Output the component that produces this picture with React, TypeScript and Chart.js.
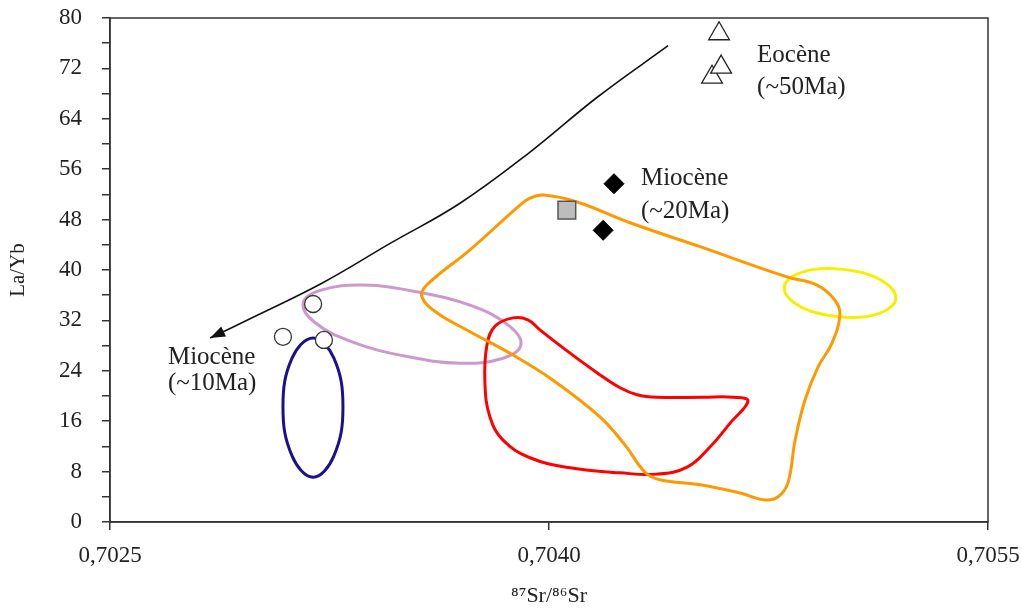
import { useEffect, useRef } from 'react';
import { Chart, registerables } from 'chart.js';

Chart.register(...registerables);

// ---- axes ----
const xTickValues = [0.7025, 0.704, 0.7055];
const yTickValues = [0, 4, 8, 12, 16, 20, 24, 28, 32, 36, 40, 44, 48, 52, 56, 60, 64, 68, 72, 76, 80];
const yLabelEvery = 8;
const xTitle = '⁸⁷Sr/⁸⁶Sr';
const yTitle = 'La/Yb';

// ---- sample points ----
const eocenePts = [[0.704557, 70.6], [0.704588, 72.2], [0.704581, 77.5]];
const miocene20Pts = [[0.704222, 53.7], [0.704185, 46.3]];
const greySquarePts = [[0.704061, 49.5]];
const miocene10Pts = [[0.703194, 34.6], [0.703091, 29.4], [0.703231, 28.9]];

// ---- trend curve (arrow toward Miocene ~10Ma) ----
const trendCurve = [
  [0.704407, 75.6], [0.704167, 67.5], [0.703932, 58.6], [0.703696, 50.6],
  [0.70346, 44.3], [0.703224, 37.9], [0.702989, 32.5], [0.702842, 29.2],
];

// ---- field outlines ----
const orangeField = [
  [0.70398, 51.9], [0.704096, 50.8], [0.704277, 47.5], [0.704516, 43.7], [0.704813, 38.9],
  [0.704916, 37.6], [0.704977, 35.2], [0.704994, 32.9], [0.704967, 28.4], [0.704919, 24.6],
  [0.704875, 19.4], [0.704841, 13.0], [0.704817, 6.3], [0.704783, 4.0], [0.704738, 3.5],
  [0.704653, 4.6], [0.704516, 5.9], [0.704379, 6.7], [0.704328, 7.9], [0.70426, 12.2],
  [0.704174, 16.7], [0.704014, 22.5], [0.703877, 26.5], [0.70373, 30.2], [0.703617, 33.2],
  [0.703566, 35.7], [0.70358, 37.5], [0.70373, 43.2], [0.703901, 50.3], [0.703935, 51.4],
];
const redField = [
  [0.703877, 32.4], [0.703816, 31.1], [0.703788, 28.1], [0.703781, 22.1], [0.703798, 16.7],
  [0.703843, 13.0], [0.703935, 10.2], [0.704072, 8.6], [0.704243, 7.8], [0.704369, 7.6],
  [0.704472, 8.7], [0.70455, 11.9], [0.704619, 15.7], [0.70468, 19.2], [0.704629, 19.8],
  [0.704526, 19.8], [0.704369, 19.8], [0.704301, 20.2], [0.704243, 21.3], [0.704164, 23.7],
  [0.704072, 26.8], [0.703969, 30.5], [0.703928, 32.1],
];
const purpleField = [
  [0.703904, 28.1], [0.703843, 26.0], [0.703699, 25.2], [0.703511, 26.3], [0.703327, 28.6],
  [0.703199, 31.7], [0.70316, 34.8], [0.703221, 36.8], [0.703364, 37.6], [0.703552, 36.5],
  [0.703737, 34.3], [0.703865, 31.1],
];
const yellowField = [
  [0.705185, 35.4], [0.705155, 33.7], [0.705082, 32.6], [0.704986, 32.6], [0.704892, 33.5],
  [0.704825, 35.3], [0.704804, 37.3], [0.704834, 39.0], [0.704907, 40.1], [0.705003, 40.1],
  [0.705097, 39.2], [0.705164, 37.4],
];
const blueField = [
  [0.703194, 29.2], [0.703265, 26.0], [0.703296, 18.3], [0.703265, 10.5],
  [0.703194, 7.1], [0.703122, 10.5], [0.703091, 18.3], [0.703122, 26.0],
];

// ---- annotations ----
const annotationTexts = ['Miocène', '(~10Ma)', 'Miocène', '(~20Ma)', 'Eocène', '(~50Ma)'];
const annotationX = [0.702698, 0.702698, 0.704314, 0.704314, 0.704711, 0.704711];
const annotationY = [26.2, 22.0, 54.6, 49.3, 74.0, 68.9];

const SERIF = "'Liberation Serif', 'Times New Roman', serif";

const toXY = (pts: number[][]) => pts.map(([x, y]) => ({ x, y }));

function closedShape(label: string, pts: number[][], color: string) {
  const n = pts.length;
  const data = toXY([pts[n - 1], ...pts, pts[0], pts[1]]);
  const last = data.length - 1;
  return {
    label,
    data,
    showLine: true,
    borderColor: color,
    backgroundColor: color,
    borderWidth: 3,
    pointRadius: 0,
    pointHoverRadius: 0,
    tension: 0.4,
    fill: false,
    order: 10,
    segment: {
      borderColor: (ctx: any) =>
        ctx.p0DataIndex === 0 || ctx.p1DataIndex === last ? 'rgba(0,0,0,0)' : undefined,
    },
  };
}

export default function App() {
  const ref = useRef<HTMLCanvasElement>(null);

  useEffect(() => {
    const canvas = ref.current;
    if (!canvas) return;

    const datasets: any[] = [
      {
        label: 'Eocene',
        data: toXY(eocenePts),
        pointStyle: 'triangle',
        pointRadius: 12,
        backgroundColor: '#ffffff',
        borderColor: '#222222',
        borderWidth: 1.3,
        showLine: false,
        order: 1,
      },
      {
        label: 'Miocene 20',
        data: toXY(miocene20Pts),
        pointStyle: 'rectRot',
        pointRadius: 10,
        backgroundColor: '#000000',
        borderColor: '#000000',
        borderWidth: 1,
        showLine: false,
        order: 1,
      },
      {
        label: 'Grey',
        data: toXY(greySquarePts),
        pointStyle: 'rect',
        pointRadius: 12.5,
        backgroundColor: '#bdbdbd',
        borderColor: '#555555',
        borderWidth: 1.5,
        showLine: false,
        order: 1,
      },
      {
        label: 'Miocene 10',
        data: toXY(miocene10Pts),
        pointStyle: 'circle',
        pointRadius: 8.5,
        backgroundColor: '#ffffff',
        borderColor: '#333333',
        borderWidth: 1.3,
        showLine: false,
        order: 1,
      },
      {
        label: 'Trend',
        data: toXY(trendCurve),
        showLine: true,
        borderColor: '#111111',
        borderWidth: 1.6,
        pointRadius: 0,
        pointHoverRadius: 0,
        tension: 0.4,
        fill: false,
        order: 5,
      },
      closedShape('Orange', orangeField, '#FF9900'),
      closedShape('Red', redField, '#FF0000'),
      closedShape('Purple', purpleField, '#CC99CC'),
      closedShape('Yellow', yellowField, '#F5F000'),
      closedShape('Blue', blueField, '#1A1090'),
    ];
    const trendIndex = 4;

    const overlay = {
      id: 'overlay',
      afterDatasetsDraw(chart: any) {
        const { ctx, chartArea, scales } = chart;
        const xs = scales.x;
        const ys = scales.y;
        ctx.save();
        ctx.strokeStyle = '#333333';
        ctx.lineWidth = 1.5;
        ctx.strokeRect(chartArea.left, chartArea.top, chartArea.right - chartArea.left, chartArea.bottom - chartArea.top);

        const meta = chart.getDatasetMeta(trendIndex);
        const els = meta.data;
        const tip = els[els.length - 1];
        const prev = els[els.length - 2];
        let fx = tip.cp1x, fy = tip.cp1y;
        if (fx === undefined || Math.hypot(tip.x - fx, tip.y - fy) < 1) { fx = prev.x; fy = prev.y; }
        const ang = Math.atan2(tip.y - fy, tip.x - fx);
        const len = 15, hw = 5.5;
        ctx.fillStyle = '#111111';
        ctx.beginPath();
        ctx.moveTo(tip.x, tip.y);
        ctx.lineTo(tip.x - len * Math.cos(ang) + hw * Math.sin(ang), tip.y - len * Math.sin(ang) - hw * Math.cos(ang));
        ctx.lineTo(tip.x - len * Math.cos(ang) - hw * Math.sin(ang), tip.y - len * Math.sin(ang) + hw * Math.cos(ang));
        ctx.closePath();
        ctx.fill();

        ctx.fillStyle = '#222222';
        ctx.font = `25px ${SERIF}`;
        ctx.textAlign = 'left';
        ctx.textBaseline = 'middle';
        annotationTexts.forEach((t, i) => {
          ctx.fillText(t, xs.getPixelForValue(annotationX[i]), ys.getPixelForValue(annotationY[i]));
        });
        ctx.restore();
      },
    };

    const chart = new Chart(canvas, {
      type: 'scatter',
      data: { datasets },
      options: {
        animation: false,
        responsive: false,
        events: [],
        layout: { padding: { top: 18, right: 34, left: 0, bottom: 0 } },
        plugins: { legend: { display: false }, tooltip: { enabled: false } },
        scales: {
          x: {
            type: 'linear',
            min: 0.7025,
            max: 0.7055,
            afterBuildTicks: (s: any) => { s.ticks = xTickValues.map((v) => ({ value: v })); },
            afterFit: (s: any) => {
              s.height = 88;
              s.paddingLeft = 0;
              s.paddingRight = 0;
              s.paddingTop = 0;
              s.paddingBottom = 0;
            },
            ticks: {
              callback: (v: any) => Number(v).toFixed(4).replace('.', ','),
              font: { family: SERIF, size: 23 },
              color: '#222222',
              padding: 12,
              maxRotation: 0,
              autoSkip: false,
            },
            grid: { drawOnChartArea: false, drawTicks: true, tickLength: 8, color: '#333333', lineWidth: 1.5 },
            border: { display: true, color: '#333333', width: 1.5 },
            title: {
              display: true,
              text: xTitle,
              font: { family: SERIF, size: 22 },
              color: '#222222',
              padding: { top: 0, bottom: 1 },
            },
          },
          y: {
            type: 'linear',
            min: 0,
            max: 80,
            afterBuildTicks: (s: any) => { s.ticks = yTickValues.map((v) => ({ value: v })); },
            afterFit: (s: any) => {
              s.width = 110;
              s.paddingLeft = 0;
              s.paddingRight = 0;
              s.paddingTop = 0;
              s.paddingBottom = 0;
            },
            ticks: {
              callback: (v: any) => (Number(v) % yLabelEvery === 0 ? String(v) : ''),
              font: { family: SERIF, size: 23 },
              color: '#222222',
              padding: 20,
              autoSkip: false,
            },
            grid: { drawOnChartArea: false, drawTicks: true, tickLength: 8, color: '#333333', lineWidth: 1.5 },
            border: { display: true, color: '#333333', width: 1.5 },
            title: {
              display: true,
              text: yTitle,
              font: { family: SERIF, size: 21 },
              color: '#222222',
              padding: { top: 6, bottom: 0 },
            },
          },
        },
      } as any,
      plugins: [overlay],
    });

    return () => chart.destroy();
  }, []);

  return (
    <div style={{ position: 'fixed', left: 0, top: 0, width: 1022, height: 610, background: '#ffffff' }}>
      <canvas ref={ref} width={1022} height={610} style={{ display: 'block' }} />
    </div>
  );
}
